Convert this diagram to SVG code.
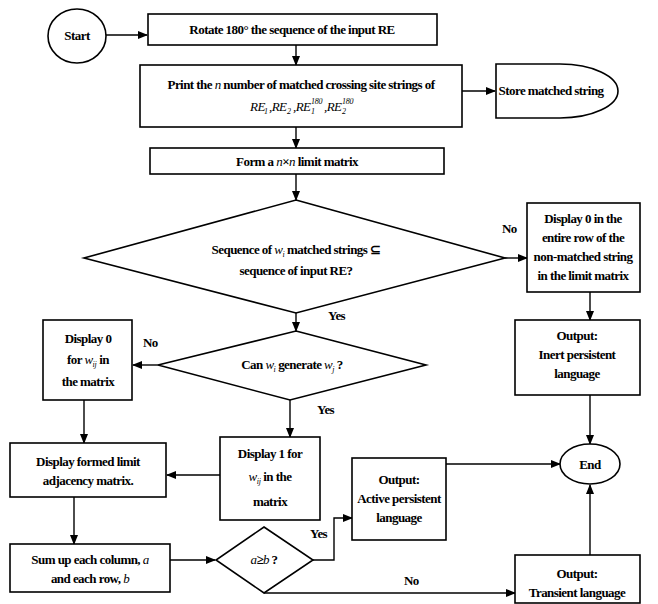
<svg xmlns="http://www.w3.org/2000/svg" width="658" height="604" viewBox="0 0 658 604">
<defs>
<marker id="ah" markerWidth="10" markerHeight="8" refX="9" refY="4" orient="auto" markerUnits="userSpaceOnUse">
<path d="M0,0 L10,4 L0,8 Z" fill="#000"/>
</marker>
<style>
.box{fill:#fff;stroke:#000;stroke-width:1.6}
.c{fill:none;stroke:#000;stroke-width:1.4;marker-end:url(#ah)}
text{font-family:"Liberation Serif","Times New Roman",serif;font-weight:bold;font-size:13px;letter-spacing:-0.55px;fill:#000}
.t{text-anchor:middle}
.m{font-style:italic;font-weight:normal}
.s{font-size:8px;font-style:italic;font-weight:normal;letter-spacing:-0.3px}
</style>
</defs>
<rect width="658" height="604" fill="#fff"/>
<g id="connectors">
<path class="c" d="M106,35 H147"/>
<path class="c" d="M296,45 V65"/>
<path class="c" d="M462,91 H495"/>
<path class="c" d="M296,127 V148"/>
<path class="c" d="M296,174 V200"/>
<path class="c" d="M505,258 H527"/>
<path class="c" d="M590,292 V320"/>
<path class="c" d="M590,395 V444"/>
<path class="c" d="M296,313 V331"/>
<path class="c" d="M158,365 H133"/>
<path class="c" d="M84,400 V443"/>
<path class="c" d="M290,400 V437"/>
<path class="c" d="M220,475 H167"/>
<path class="c" d="M74,497 V544"/>
<path class="c" d="M170,560 H215"/>
<path class="c" d="M313,560 H334 V518 H352"/>
<path class="c" d="M446,464 H560"/>
<path class="c" d="M264,593 H515"/>
<path class="c" d="M590,555 V485"/>
<text x="502" y="233">No</text>
<text x="328" y="320">Yes</text>
<text x="143" y="347">No</text>
<text x="317" y="414">Yes</text>
<text x="310" y="538">Yes</text>
<text x="404" y="585">No</text>
</g>
<g id="start">
<ellipse class="box" cx="77" cy="36" rx="29" ry="27"/>
<text class="t" x="77" y="40">Start</text>
</g>
<g id="rotate">
<rect class="box" x="148" y="14" width="289" height="31"/>
<text class="t" x="292" y="34">Rotate 180° the sequence of the input RE</text>
</g>
<g id="print">
<rect class="box" x="140" y="65" width="322" height="62"/>
<text class="t" x="301" y="89">Print the <tspan class="m">n</tspan> number of matched crossing site strings of</text>
<text class="m" x="250" y="111">RE</text><text class="s" x="264" y="114">1</text>
<text class="m" x="269" y="111">,RE</text><text class="s" x="287" y="114">2</text>
<text class="m" x="293" y="111">,RE</text><text class="s" x="311" y="114">1</text><text class="s" x="311" y="104">180</text>
<text class="m" x="324" y="111">,RE</text><text class="s" x="342" y="114">2</text><text class="s" x="342" y="104">180</text>
</g>
<g id="store">
<path class="box" d="M496,64 H560 A58,27 0 0 1 560,118 H496 Z"/>
<text class="t" x="551" y="95">Store matched string</text>
</g>
<g id="form">
<rect class="box" x="150" y="148" width="294" height="26"/>
<text class="t" x="297" y="166">Form a  <tspan class="m">n</tspan>×<tspan class="m">n</tspan>  limit matrix</text>
</g>
<g id="decision1">
<polygon class="box" points="296,200 505,258 296,313 84,258"/>
<text class="t" x="296" y="254">Sequence of  <tspan class="m">w</tspan><tspan class="s" dy="3">i</tspan><tspan dy="-3"> matched strings ⊆</tspan></text>
<text class="t" x="296" y="275">sequence of input RE?</text>
</g>
<g id="row0">
<rect class="box" x="527" y="203" width="113" height="89"/>
<text class="t" x="583" y="223">Display 0 in the</text>
<text class="t" x="583" y="242">entire row of the</text>
<text class="t" x="583" y="261">non-matched string</text>
<text class="t" x="583" y="280">in the limit matrix</text>
</g>
<g id="inert">
<rect class="box" x="515" y="320" width="125" height="75"/>
<text class="t" x="577" y="340">Output:</text>
<text class="t" x="577" y="359">Inert persistent</text>
<text class="t" x="577" y="378">language</text>
</g>
<g id="end">
<ellipse class="box" cx="590" cy="464" rx="30" ry="20"/>
<text class="t" x="590" y="469">End</text>
</g>
<g id="decision2">
<polygon class="box" points="296,331 426,365 290,400 158,365"/>
<text class="t" x="292" y="369">Can  <tspan class="m">w</tspan><tspan class="s" dy="3">i</tspan><tspan dy="-3"> generate </tspan><tspan class="m">w</tspan><tspan class="s" dy="3">j</tspan><tspan dy="-3">  ?</tspan></text>
</g>
<g id="zero">
<rect class="box" x="43" y="320" width="89" height="80"/>
<text class="t" x="88" y="343">Display 0</text>
<text class="t" x="88" y="364">for  <tspan class="m">w</tspan><tspan class="s" dy="3">ij</tspan><tspan dy="-3"> in</tspan></text>
<text class="t" x="88" y="386">the matrix</text>
</g>
<g id="one">
<rect class="box" x="220" y="437" width="100" height="83"/>
<text class="t" x="270" y="458">Display 1 for</text>
<text class="t" x="270" y="481"><tspan class="m">w</tspan><tspan class="s" dy="3">ij</tspan><tspan dy="-3"> in the</tspan></text>
<text class="t" x="270" y="506">matrix</text>
</g>
<g id="formed">
<rect class="box" x="10" y="443" width="156" height="54"/>
<text class="t" x="88" y="466">Display formed limit</text>
<text class="t" x="88" y="485">adjacency matrix.</text>
</g>
<g id="sum">
<rect class="box" x="10" y="544" width="160" height="48"/>
<text class="t" x="90" y="564">Sum up each column, <tspan class="m">a</tspan></text>
<text class="t" x="90" y="583">and each row, <tspan class="m">b</tspan></text>
</g>
<g id="decision3">
<polygon class="box" points="264,527 313,560 264,593 216,560"/>
<text class="t" x="264" y="564"><tspan class="m">a</tspan>≥<tspan class="m">b</tspan> ?</text>
</g>
<g id="active">
<rect class="box" x="352" y="458" width="94" height="82"/>
<text class="t" x="399" y="484">Output:</text>
<text class="t" x="399" y="503">Active persistent</text>
<text class="t" x="399" y="522">language</text>
</g>
<g id="transient">
<rect class="box" x="515" y="555" width="125" height="48"/>
<text class="t" x="577" y="578">Output:</text>
<text class="t" x="577" y="597">Transient language</text>
</g>
</svg>
